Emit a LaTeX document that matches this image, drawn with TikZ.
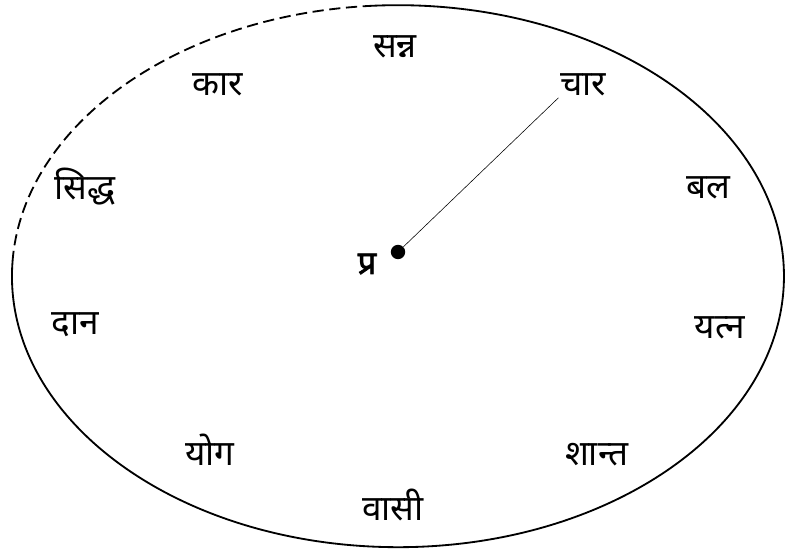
\documentclass[tikz,border=0pt]{standalone}
\usepackage{fontspec}
\newfontfamily\devfont[Script=Devanagari]{Noto Sans}
\newfontfamily\devbold[Script=Devanagari, FakeBold=2.5]{Noto Sans}
\usetikzlibrary{positioning}

\begin{document}
\begin{tikzpicture}[
    x=0.025cm, y=-0.025cm,
    word/.style={font=\devfont\fontsize{25}{28}\selectfont, inner sep=1pt},
    rim/.style={line width=1.3pt},
    spoke/.style={thin},
]
    \useasboundingbox (0,0) rectangle (785,551);
    % outer ring, dashed in the upper left
    \draw[rim] (12.5,262) arc[start angle=-177, end angle=-454, x radius=386, y radius=271];
    \draw[rim, dash pattern=on 0.28cm off 0.14cm] (12.5,262) arc[start angle=-177, end angle=-94, x radius=386, y radius=271];
    % centre
    \node[circle, fill, inner sep=0pt, minimum size=0.36cm] (hub) at (398,252) {};
    \node[word, font=\devbold\fontsize{23}{26}\selectfont] (pra) at (367,264) {प्र};
    % words round the ring
    \node[word] (sanna) at (395,47) {सन्न};
    \node[word] (kaar) at (218,85) {कार};
    \node[word] (chaar) at (583,85) {चार};
    \node[word] (siddh) at (85,187) {सिद्ध};
    \node[word] (bal) at (708,188) {बल};
    \node[word] (daan) at (75,325) {दान};
    \node[word] (yatn) at (720,328) {यत्न};
    \node[word] (yog) at (210,450) {योग};
    \node[word] (shaant) at (597,455) {शान्त};
    \node[word] (vaasi) at (393,505) {वासी};
    \draw[spoke] (hub) -- (chaar.south west);
\end{tikzpicture}
\end{document}
